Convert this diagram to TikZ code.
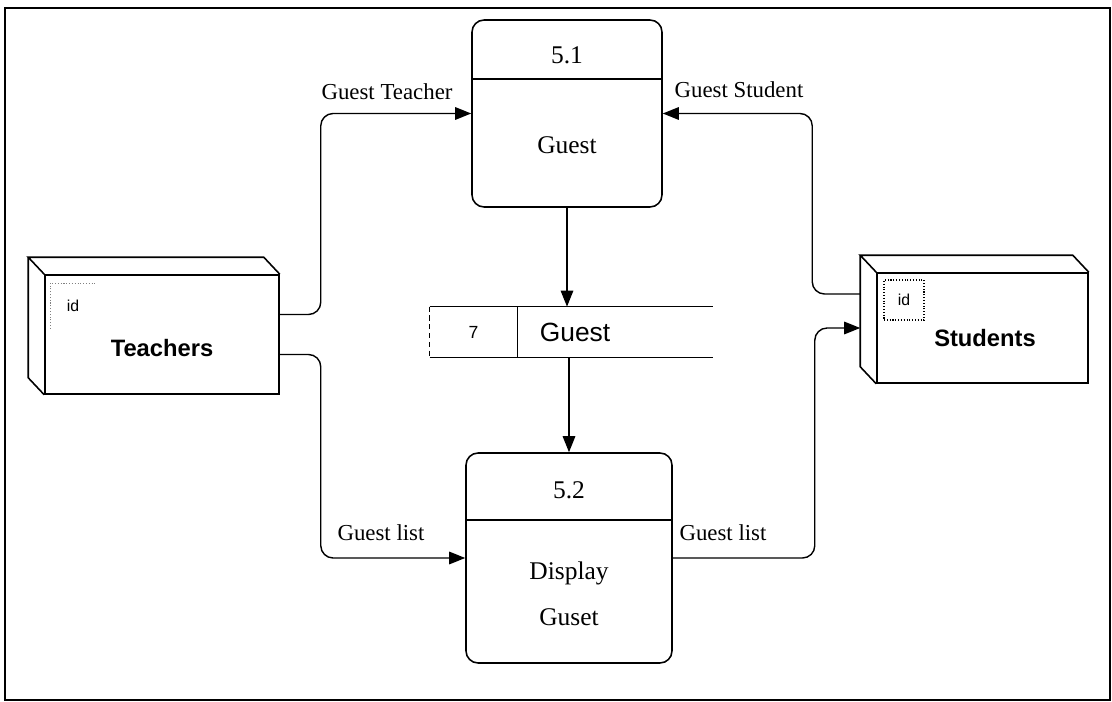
\documentclass[tikz,border=0pt]{standalone}
\usepackage{fontspec}
\setmainfont{Liberation Serif}
\setsansfont{Liberation Sans}
\usetikzlibrary{arrows.meta,calc}
\newcommand{\entitydepth}[1]% front face node
{(#1.north east) -- ++(-16,-17) -- ($(#1.north west)+(-16,-17)$) -- (#1.north west)
 ($(#1.north west)+(-16,-17)$) -- ($(#1.south west)+(-16,-17)$) -- (#1.south west)
}

\begin{document}
\begin{tikzpicture}[x=0.02cm,y=-0.02cm,
  proc/.style={draw,line width=0.9pt,rounded corners=2.4mm,inner sep=0pt},
  face/.style={draw,line width=0.9pt,inner sep=0pt},
  flow/.style={line width=0.8pt,rounded corners=7pt,-{Triangle[length=3.2mm,width=2.5mm]}},
  lbl/.style={font=\fontsize{13}{15}\selectfont},
  ptxt/.style={font=\fontsize{14.5}{17}\selectfont},
  iddots/.style={densely dotted,line width=0.6pt}]
  \useasboundingbox (0,0) rectangle (1112,702);
  \draw[line width=1.6pt] (5,8) rectangle (1110,700);

  % processes
  \node[proc,minimum width=3.8cm,minimum height=3.74cm] (p51) at (567,113.5) {};
  \draw[line width=0.8pt] (p51.west |- 0,79) -- (p51.east |- 0,79);
  \node[ptxt] (p51id) at (p51.center |- 0,55) {5.1};
  \node[ptxt] (p51name) at (p51.center |- 0,145) {Guest};
  \node[proc,minimum width=4.12cm,minimum height=4.2cm] (p52) at (569,558) {};
  \draw[line width=0.8pt] (p52.west |- 0,520) -- (p52.east |- 0,520);
  \node[ptxt] (p52id) at (p52.center |- 0,490) {5.2};
  \node[ptxt] (p52name) at (p52.center |- 0,573) {Display};
  \node[ptxt] (p52name2) at (p52.center |- 0,617) {Guset};

  % data store
  \node[minimum width=1.74cm,minimum height=1cm,inner sep=0pt,
    font=\sffamily\fontsize{10}{12}\selectfont] (st7) at (473.5,332) {7};
  \draw[densely dashed,line width=0.5pt] (st7.north west) -- (st7.south west);
  \draw[line width=0.6pt] (st7.north west) -- (st7.north east);
  \draw[line width=0.6pt] (st7.south west) -- (st7.south east);
  \draw[line width=0.9pt] (st7.north east) -- ++(196,0);
  \draw[line width=0.9pt] (st7.south east) -- ++(196,0);
  \draw[line width=0.8pt] (st7.north east) -- (st7.south east);
  \node[font=\sffamily\fontsize{15}{18}\selectfont] (stname) at (575,332) {Guest};
  \draw[flow] (p51.south) -- (p51.south |- st7.north);
  \draw[flow] (p52.north |- st7.south) -- (p52.north);

  % entities
  \node[face,minimum width=4.68cm,minimum height=2.38cm] (teach) at (162,334.5) {};
  \draw[line width=0.9pt] \entitydepth{teach};
  \node[font=\sffamily\bfseries\fontsize{13.5}{16}\selectfont] (teachname) at (162,348) {Teachers};
  \node[font=\sffamily\fontsize{9}{11}\selectfont,minimum size=0.9cm,inner sep=0pt] (teachid) at (73,306) {id};
  \draw[iddots,gray] (teachid.south west) -- (teachid.north west) -- (teachid.north east);
  \node[face,minimum width=4.22cm,minimum height=2.2cm] (stud) at (982.5,328) {};
  \draw[line width=0.9pt] \entitydepth{stud};
  \node[font=\sffamily\bfseries\fontsize{13.5}{16}\selectfont] (studname) at (985,338) {Students};
  \node[draw,iddots,font=\sffamily\fontsize{9}{11}\selectfont,minimum size=0.8cm,inner sep=0pt] (studid) at (904,300) {id};

  % flows
  \draw[flow] ($(teach.east)+(0,-20)$) -- ++(41,0) |- (p51.west);
  \draw[flow] ($(teach.east)+(0,20)$) -- ++(41,0) |- (p52.west);
  \draw[flow] ($(stud.west)+(-16,-34)$) -- ++(-48,0) |- (p51.east);
  \draw[flow] (p52.east) -- ++(142,0) |- ($(stud.west)+(-16,0)$);
  \node[lbl] (lblteach) at (387,92) {Guest Teacher};
  \node[lbl] (lblstud) at (739,90) {Guest Student};
  \node[lbl] (lbllist1) at (381,533) {Guest list};
  \node[lbl] (lbllist2) at (723,533) {Guest list};
\end{tikzpicture}
\end{document}
